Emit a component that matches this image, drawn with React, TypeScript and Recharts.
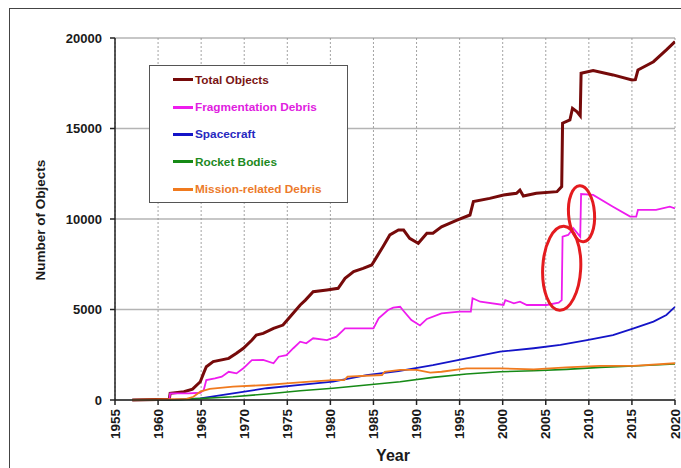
import React from 'react';
import {
  LineChart,
  Line,
  XAxis,
  YAxis,
  CartesianGrid,
  Legend,
  ReferenceDot,
  Label,
} from 'recharts';

// ---------- data ----------
const xTicks = [1955, 1960, 1965, 1970, 1975, 1980, 1985, 1990, 1995, 2000, 2005, 2010, 2015, 2020];
const yTicks = [0, 5000, 10000, 15000, 20000];

const totalYears = [
  1957.0, 1961.3, 1961.4, 1963.0, 1964.0, 1964.9, 1965.3, 1965.6, 1966.4, 1968.2, 1969.1, 1969.9,
  1970.9, 1971.4, 1972.2, 1973.4, 1974.5, 1975.5, 1976.5, 1977.1, 1978.0, 1979.6, 1980.9, 1981.7,
  1982.7, 1983.8, 1984.8, 1985.4, 1986.1, 1986.9, 1987.9, 1988.5, 1989.2, 1990.2, 1991.2, 1991.9,
  1992.9, 1994.7, 1996.2, 1996.6, 1998.5, 2000.1, 2001.6, 2002.0, 2002.4, 2003.9, 2006.3, 2006.85,
  2006.95, 2007.8, 2008.1, 2008.6, 2009.0, 2009.1, 2010.5, 2012.8, 2015.0, 2015.4, 2015.7, 2017.5,
  2019.0, 2020.0,
];
const totalValues = [
  0, 40, 370, 460, 600, 1010, 1500, 1840, 2120, 2300, 2580, 2860,
  3315, 3590, 3680, 3960, 4140, 4700, 5250, 5520, 5980, 6080, 6170, 6720,
  7090, 7270, 7460, 7920, 8470, 9120, 9390, 9390, 8930, 8660, 9210, 9210,
  9570, 9940, 10220, 10960, 11140, 11330, 11420, 11600, 11270, 11420, 11510, 11790,
  15290, 15470, 16110, 15930, 15700, 18050, 18200, 17960, 17680, 17700, 18230, 18690,
  19340, 19800,
];

const fragYears = [
  1957.0, 1961.3, 1961.4, 1963.5, 1964.9, 1965.3, 1965.6, 1966.6, 1967.4, 1968.2, 1969.1, 1969.9,
  1970.7, 1970.9, 1972.2, 1973.4, 1974.0, 1974.9, 1975.7, 1976.5, 1977.2, 1978.0, 1979.6, 1980.7,
  1981.7, 1983.8, 1985.0, 1985.6, 1986.7, 1987.3, 1988.1, 1988.4, 1989.4, 1990.4, 1991.2, 1992.9,
  1995.0, 1996.3, 1996.5, 1997.4, 2000.1, 2000.3, 2001.3, 2002.0, 2002.8, 2005.1, 2006.5, 2006.85,
  2006.95, 2007.6, 2008.2, 2009.0, 2009.1, 2010.5, 2012.8, 2014.8, 2015.5, 2015.7, 2017.8, 2019.4,
  2020.0,
];
const fragValues = [
  0, 0, 370, 370, 400, 550, 1100, 1200, 1290, 1560, 1470, 1750,
  2120, 2200, 2210, 2030, 2390, 2480, 2860, 3220, 3130, 3410, 3310, 3500,
  3960, 3960, 3960, 4510, 4970, 5100, 5150, 4970, 4420, 4120, 4480, 4790,
  4880, 4880, 5620, 5430, 5250, 5520, 5340, 5430, 5250, 5250, 5380, 5520,
  9020, 9120, 9490, 9020, 11380, 11330, 10680, 10130, 10130, 10500, 10500, 10680,
  10590,
];

const spacecraftYears = [
  1957.0, 1962.0, 1964.9, 1968.7, 1972.6, 1976.5, 1980.3, 1984.2, 1987.9, 1991.9, 1995.8, 1999.7,
  2003.6, 2006.7, 2009.8, 2012.8, 2015.2, 2017.5, 2019.0, 2020.0,
];
const spacecraftValues = [
  0, 20, 90, 370, 650, 830, 1010, 1380, 1600, 1930, 2300, 2670,
  2860, 3040, 3310, 3590, 3960, 4330, 4700, 5150,
];

const rocketYears = [
  1957.0, 1962.5, 1968.7, 1972.6, 1976.5, 1980.3, 1984.2, 1988.1, 1991.9, 1995.8, 1999.7, 2003.6,
  2007.4, 2011.3, 2015.2, 2020.0,
];
const rocketValues = [
  0, 20, 180, 330, 510, 650, 830, 1010, 1250, 1440, 1560, 1620,
  1690, 1800, 1880, 1990,
];

const missionYears = [
  1957.0, 1963.3, 1964.1, 1964.9, 1966.0, 1968.7, 1972.6, 1974.9, 1977.6, 1980.3, 1981.6, 1982.0,
  1986.0, 1986.3, 1988.1, 1990.0, 1991.6, 1992.9, 1995.8, 1999.7, 2003.6, 2007.4, 2011.3, 2015.2,
  2020.0,
];
const missionValues = [
  0, 60, 180, 460, 610, 740, 830, 920, 1010, 1100, 1100, 1290,
  1380, 1560, 1660, 1660, 1510, 1560, 1750, 1750, 1690, 1800, 1880, 1880,
  2030,
];

// annotation ellipses (data-space centres)
const highlightYears = [2006.85, 2009.15];
const highlightValues = [7280, 10290];

const seriesNames = [
  'Total Objects',
  'Fragmentation Debris',
  'Spacecraft',
  'Rocket Bodies',
  'Mission-related Debris',
];

// ---------- helpers ----------
const toPoints = (years: number[], values: number[]) =>
  years.map((year, i) => ({ year, value: values[i] }));

const seriesDefs = [
  { name: seriesNames[0], data: toPoints(totalYears, totalValues), color: '#760a0a', text: '#7a1414', width: 3 },
  { name: seriesNames[1], data: toPoints(fragYears, fragValues), color: '#ee1cee', text: '#e020e0', width: 1.8 },
  { name: seriesNames[2], data: toPoints(spacecraftYears, spacecraftValues), color: '#1414c8', text: '#2828c0', width: 1.8 },
  { name: seriesNames[3], data: toPoints(rocketYears, rocketValues), color: '#168a16', text: '#1e8a1e', width: 1.6 },
  { name: seriesNames[4], data: toPoints(missionYears, missionValues), color: '#f07a1e', text: '#ec7a2a', width: 1.8 },
];

const FONT = '"Liberation Sans", Arial, Helvetica, sans-serif';

const XTick = (props: any) => {
  const { x, y, payload } = props;
  return (
    <text
      x={x}
      y={y}
      transform={`rotate(-90 ${x} ${y})`}
      textAnchor="end"
      dominantBaseline="central"
      fontFamily={FONT}
      fontWeight="bold"
      fontSize={13.5}
      fill="#1a1a1a"
    >
      {payload.value}
    </text>
  );
};

const YTick = (props: any) => {
  const { x, y, payload } = props;
  return (
    <text
      x={x}
      y={y}
      textAnchor="end"
      dominantBaseline="central"
      fontFamily={FONT}
      fontWeight="bold"
      fontSize={13}
      fill="#1a1a1a"
    >
      {payload.value}
    </text>
  );
};

const renderLegend = () => (
  <div
    style={{
      width: 199,
      height: 138,
      border: '1px solid #555',
      background: '#fff',
      boxSizing: 'border-box',
      fontFamily: FONT,
      fontWeight: 'bold',
      fontSize: 11.8,
    }}
  >
    {seriesDefs.map((s) => (
      <div
        key={s.name}
        style={{ display: 'flex', alignItems: 'center', height: 27.4, paddingLeft: 23 }}
      >
        <div style={{ width: 20, height: 3, background: s.color, marginRight: 2 }} />
        <span style={{ color: s.text, whiteSpace: 'nowrap' }}>{s.name}</span>
      </div>
    ))}
  </div>
);

const makeEllipse = (rx: number, ry: number, rot: number) => (p: any) => (
  <ellipse
    cx={p.cx}
    cy={p.cy}
    rx={rx}
    ry={ry}
    transform={`rotate(${rot} ${p.cx} ${p.cy})`}
    fill="none"
    stroke="#e41b1f"
    strokeWidth={3}
  />
);

const ellipseShapes = [makeEllipse(19, 42, 3), makeEllipse(13, 28, -4)];

export default function App() {
  return (
    <div style={{ position: 'absolute', left: 0, top: 0, width: 681, height: 468, overflow: 'hidden', background: '#fff' }}>
      <div
        style={{
          position: 'absolute',
          left: 9,
          top: 8,
          width: 720,
          height: 520,
          border: '1.5px solid #444',
          boxSizing: 'border-box',
        }}
      />
      <div style={{ position: 'absolute', left: 0, top: 0 }}>
        <LineChart
          width={681}
          height={468}
          margin={{ top: 38, right: 6, left: 55, bottom: 18 }}
        >
          <CartesianGrid vertical={false} stroke="#b4b4b4" strokeWidth={1.5} />
          <CartesianGrid horizontal={false} stroke="#8c8c8c" strokeDasharray="2 2" strokeWidth={0.8} />
          <XAxis
            type="number"
            dataKey="year"
            domain={[1955, 2020]}
            ticks={xTicks}
            interval={0}
            allowDataOverflow
            height={50}
            stroke="#222"
            strokeWidth={1.5}
            tickSize={5}
            tickMargin={4}
            tick={<XTick />}
          >
            <Label
              content={() => (
                <text
                  x={393}
                  y={461}
                  textAnchor="middle"
                  fontFamily={FONT}
                  fontWeight="bold"
                  fontSize={16}
                  fill="#1a1a1a"
                >
                  Year
                </text>
              )}
            />
          </XAxis>
          <YAxis
            type="number"
            domain={[0, 20000]}
            ticks={yTicks}
            interval={0}
            width={60}
            stroke="#222"
            strokeWidth={1.5}
            tickSize={5}
            tickMargin={8}
            tick={<YTick />}
          >
            <Label
              content={() => (
                <text
                  x={40}
                  y={220}
                  transform="rotate(-90 40 220)"
                  textAnchor="middle"
                  dominantBaseline="central"
                  fontFamily={FONT}
                  fontWeight="bold"
                  fontSize={13.5}
                  fill="#1a1a1a"
                >
                  Number of Objects
                </text>
              )}
            />
          </YAxis>
          <Legend
            layout="vertical"
            align="center"
            verticalAlign="middle"
            content={renderLegend}
            wrapperStyle={{ position: 'absolute', left: 149, top: 65, width: 199, height: 138 }}
          />
          {seriesDefs.map((s) => (
            <Line
              key={s.name}
              name={s.name}
              data={s.data}
              dataKey="value"
              type="linear"
              stroke={s.color}
              strokeWidth={s.width}
              dot={false}
              activeDot={false}
              isAnimationActive={false}
            />
          ))}
          {highlightYears.map((yr, i) => (
            <ReferenceDot
              key={`hl-${i}`}
              x={yr}
              y={highlightValues[i]}
              r={1}
              shape={ellipseShapes[i]}
            />
          ))}
        </LineChart>
      </div>
    </div>
  );
}
